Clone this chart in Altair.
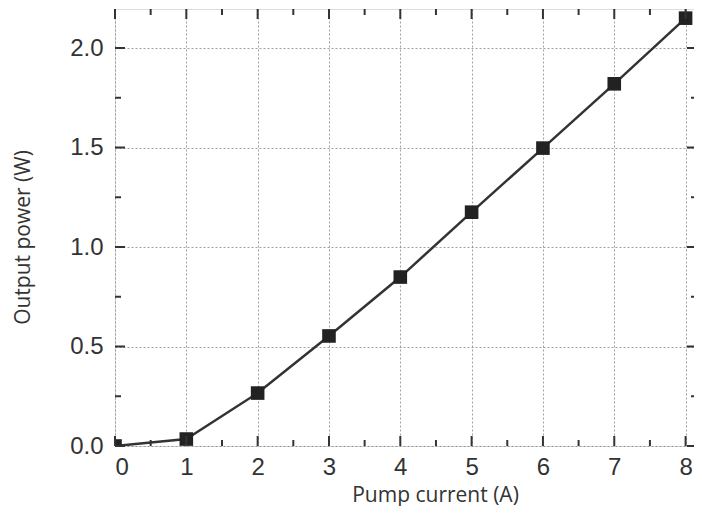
import altair as alt
import pandas as pd

current = [0, 1, 2, 3, 4, 5, 6, 7, 8]
power = [0.0, 0.035, 0.266, 0.553, 0.849, 1.175, 1.497, 1.82, 2.15]

x_major = [0, 1, 2, 3, 4, 5, 6, 7, 8]
x_minor = [0.5, 1.5, 2.5, 3.5, 4.5, 5.5, 6.5, 7.5]
y_major = [0.0, 0.5, 1.0, 1.5, 2.0]
y_minor = [0.25, 0.75, 1.25, 1.75]

W, H = 582, 437
INK = "#333333"

df = pd.DataFrame({"current": current, "power": power})
xmaj = pd.DataFrame({"v": x_major})
xmin = pd.DataFrame({"v": x_minor})
ymaj = pd.DataFrame({"v": y_major})
ymin = pd.DataFrame({"v": y_minor})

xs = alt.Scale(domain=[0, 8.16], nice=False, zero=False)
ys = alt.Scale(domain=[0, 2.196], nice=False, zero=False)

xaxis = alt.Axis(values=x_major, format="d", ticks=False, domain=False,
                 grid=True, gridDash=[2, 2], gridColor="#888888", gridWidth=0.8,
                 labelFont="Liberation Sans", labelFontSize=24, labelColor=INK,
                 labelPadding=9, title="Pump current (A)",
                 titleFont="Open Sans", titleFontSize=21, titleFontWeight="normal",
                 titleColor=INK, titleX=320, titleY=55, titleBaseline="alphabetic",
                 titleAnchor="start", titleAlign="center")
yaxis = alt.Axis(values=y_major, format=".1f", ticks=False, domain=False,
                 grid=True, gridDash=[2, 2], gridColor="#888888", gridWidth=0.8,
                 labelFont="Liberation Sans", labelFontSize=24, labelColor=INK,
                 labelPadding=12, title="Output power (W)",
                 titleFont="Open Sans", titleFontSize=21, titleFontWeight="normal",
                 titleColor=INK, titleX=-92, titleY=228, titleBaseline="middle",
                 titleAnchor="start", titleAlign="center")

base = alt.Chart(df)
line = base.mark_line(color=INK, strokeWidth=2.5, clip=True).encode(
    x=alt.X("current:Q", scale=xs, axis=xaxis),
    y=alt.Y("power:Q", scale=ys, axis=yaxis),
)
pts = base.mark_point(shape="square", filled=True, color="#222222", size=185,
                      opacity=1, clip=True).encode(
    x=alt.X("current:Q", scale=xs),
    y=alt.Y("power:Q", scale=ys),
)

def xticks(d, L):
    b = alt.Chart(d).mark_rule(color=INK, strokeWidth=2).encode(
        x=alt.X("v:Q", scale=xs), y=alt.value(H), y2=alt.value(H - L))
    t = alt.Chart(d).mark_rule(color=INK, strokeWidth=2).encode(
        x=alt.X("v:Q", scale=xs), y=alt.value(0), y2=alt.value(L))
    return b + t

def yticks(d, L):
    l = alt.Chart(d).mark_rule(color=INK, strokeWidth=2).encode(
        y=alt.Y("v:Q", scale=ys), x=alt.value(0), x2=alt.value(L))
    r = alt.Chart(d).mark_rule(color=INK, strokeWidth=2).encode(
        y=alt.Y("v:Q", scale=ys), x=alt.value(W), x2=alt.value(W - L))
    return l + r

chart = alt.layer(
    line, pts,
    xticks(xmaj, 10), xticks(xmin, 6), yticks(ymaj, 10), yticks(ymin, 6),
).properties(
    width=W, height=H,
    autosize=alt.AutoSizeParams(type="none"),
    padding={"left": 107, "top": 1, "right": -3, "bottom": 60},
).configure_view(stroke=INK, strokeWidth=2).configure(background="white")

chart.save("out.html", embed_options={"renderer": "svg", "actions": False})
